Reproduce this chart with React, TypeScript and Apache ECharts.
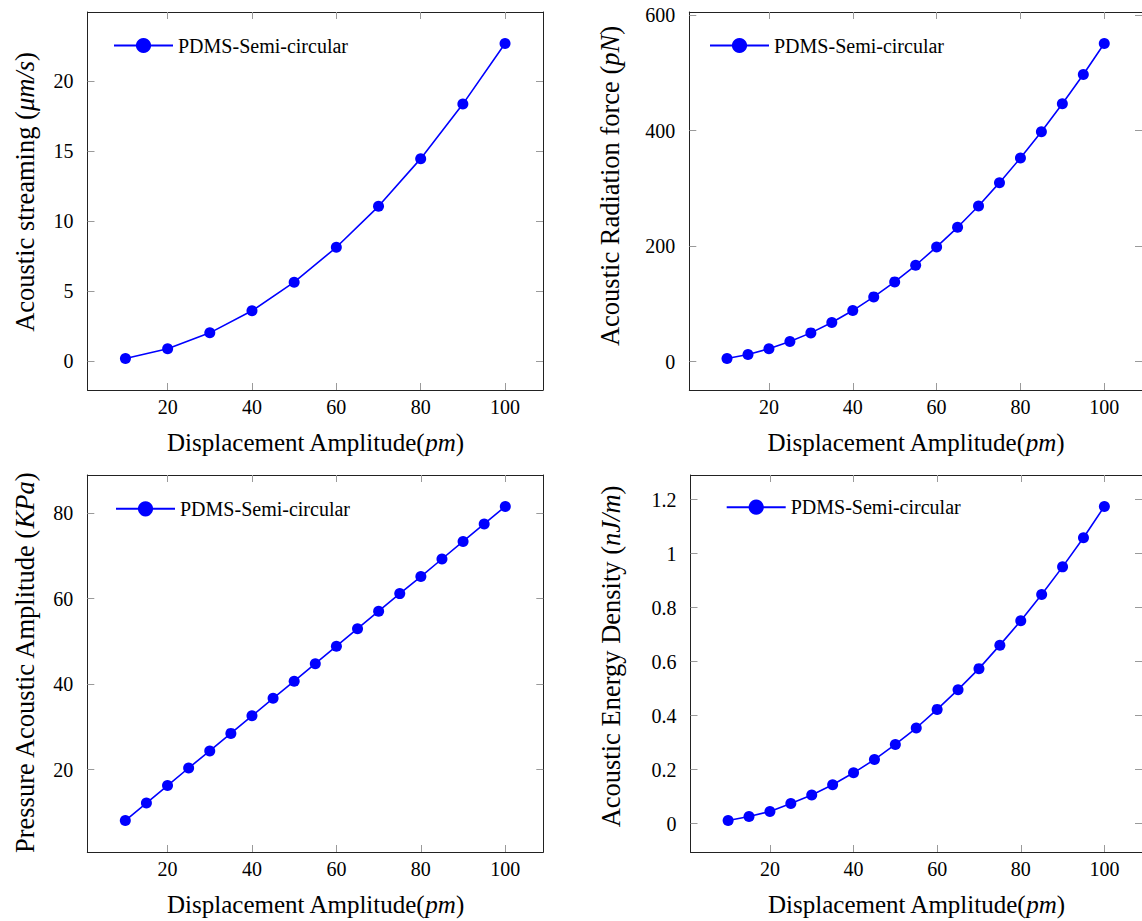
import React, { useEffect, useRef } from 'react';
import * as echarts from 'echarts';

const SERIES_NAME = 'PDMS-Semi-circular';

const xCoarse = [10, 20, 30, 40, 50, 60, 70, 80, 90, 100];
const xFine = [10, 15, 20, 25, 30, 35, 40, 45, 50, 55, 60, 65, 70, 75, 80, 85, 90, 95, 100];

const streaming = [0.21, 0.9, 2.04, 3.61, 5.65, 8.14, 11.06, 14.46, 18.35, 22.67];
const radiation = [5.2, 12.1, 22.0, 34.6, 49.6, 67.5, 88.3, 112.0, 138.0, 166.8, 198.6, 232.6, 269.6, 310.0, 352.7, 398.3, 446.8, 497.5, 551.2];
const pressure = [8.1, 12.2, 16.3, 20.4, 24.4, 28.5, 32.6, 36.7, 40.7, 44.8, 48.9, 53.0, 57.1, 61.2, 65.2, 69.3, 73.4, 77.5, 81.6];
const energy = [0.011, 0.026, 0.045, 0.074, 0.106, 0.144, 0.188, 0.237, 0.293, 0.354, 0.423, 0.496, 0.574, 0.661, 0.751, 0.849, 0.951, 1.059, 1.175];

const xTicks = [20, 40, 60, 80, 100];
const streamingTicks = [0, 5, 10, 15, 20];
const radiationTicks = [0, 200, 400, 600];
const pressureTicks = [20, 40, 60, 80];
const energyTicks = [0, 0.2, 0.4, 0.6, 0.8, 1, 1.2];

const xTitle = '{n|Displacement Amplitude(}{i|pm}{n|)}';
const streamingTitle = '{n|Acoustic streaming (}{i|μm/s}{n|)}';
const radiationTitle = '{n|Acoustic Radiation force (}{i|pN}{n|)}';
const pressureTitle = '{n|Pressure Acoustic Amplitude (}{i|KPa}{n|)}';
const energyTitle = '{n|Acoustic Energy Density (}{i|nJ/m}{n|)}';

const BLUE = '#0000ff';
const FONT = '"Liberation Serif", "Times New Roman", serif';

function enlarge(vals: number[]): [number, number] {
  const lo = Math.min(...vals);
  const hi = Math.max(...vals);
  const pad = (hi - lo) * 0.1;
  return [lo - pad, hi + pad];
}

export default function App() {
  const ref = useRef<HTMLDivElement>(null);

  useEffect(() => {
    if (!ref.current) return;
    const chart = echarts.init(ref.current, null, { renderer: 'svg' });

    const panels = [
      { x: xCoarse, y: streaming, yTicks: streamingTicks, title: streamingTitle,
        grid: { left: 87.5, top: 12, width: 455.5, height: 378 }, gap: 49, shift: 18, legend: { left: 113, top: 35.5 } },
      { x: xFine, y: radiation, yTicks: radiationTicks, title: radiationTitle,
        grid: { left: 689.3, top: 12, width: 455, height: 378 }, gap: 66, shift: 30, legend: { left: 709, top: 35.5 } },
      { x: xFine, y: pressure, yTicks: pressureTicks, title: pressureTitle,
        grid: { left: 87.3, top: 475, width: 456, height: 377 }, gap: 49, shift: 0, legend: { left: 115, top: 498.8 } },
      { x: xFine, y: energy, yTicks: energyTicks, title: energyTitle,
        grid: { left: 690.5, top: 475, width: 455.5, height: 377 }, gap: 66, shift: 14, legend: { left: 725.7, top: 497.2 } },
    ];

    const richX = {
      n: { fontFamily: FONT, fontSize: 25, color: '#000' },
      i: { fontFamily: FONT, fontSize: 25, color: '#000', fontStyle: 'italic' },
    };
    const richY = {
      n: { fontFamily: FONT, fontSize: 26.5, color: '#000' },
      i: { fontFamily: FONT, fontSize: 26.5, color: '#000', fontStyle: 'italic' },
    };

    const grids: any[] = [];
    const xAxes: any[] = [];
    const yAxes: any[] = [];
    const series: any[] = [];
    const legends: any[] = [];

    const lineCol = '#222';
    const tickCol = '#9a9a9a';

    panels.forEach((p, i) => {
      grids.push({ ...p.grid, containLabel: false });
      const xr = enlarge(p.x);
      const yr = enlarge(p.y);

      xAxes.push({
        type: 'value', gridIndex: i, position: 'bottom', min: xr[0], max: xr[1],
        axisLine: { show: true, onZero: false, lineStyle: { color: lineCol, width: 1 } },
        axisTick: { show: true, inside: true, length: 7, customValues: xTicks, lineStyle: { color: tickCol } },
        axisLabel: { show: true, customValues: xTicks, fontFamily: FONT, fontSize: 20, color: '#000', margin: 7 },
        splitLine: { show: false },
        name: xTitle, nameLocation: 'middle', nameGap: 40,
        nameTextStyle: { rich: richX },
      });
      xAxes.push({
        type: 'value', gridIndex: i, position: 'top', min: xr[0], max: xr[1],
        axisLine: { show: true, onZero: false, lineStyle: { color: lineCol, width: 1 } },
        axisTick: { show: true, inside: true, length: 7, customValues: xTicks, lineStyle: { color: tickCol } },
        axisLabel: { show: false },
        splitLine: { show: false },
      });
      yAxes.push({
        type: 'value', gridIndex: i, position: 'left', min: yr[0], max: yr[1],
        axisLine: { show: true, onZero: false, lineStyle: { color: lineCol, width: 1 } },
        axisTick: { show: true, inside: true, length: 7, customValues: p.yTicks, lineStyle: { color: tickCol } },
        axisLabel: { show: true, customValues: p.yTicks, fontFamily: FONT, fontSize: 20, color: '#000', margin: 14,
          formatter: (v: number) => String(Math.round(v * 1000) / 1000) },
        splitLine: { show: false },
        name: p.title, nameLocation: 'middle', nameGap: p.gap, nameRotate: 90,
        nameTextStyle: { rich: richY, padding: [0, 0, 0, p.shift] },
      });
      yAxes.push({
        type: 'value', gridIndex: i, position: 'right', min: yr[0], max: yr[1],
        axisLine: { show: true, onZero: false, lineStyle: { color: lineCol, width: 1 } },
        axisTick: { show: true, inside: true, length: 7, customValues: p.yTicks, lineStyle: { color: tickCol } },
        axisLabel: { show: false },
        splitLine: { show: false },
      });

      series.push({
        type: 'line', name: SERIES_NAME, xAxisIndex: 2 * i, yAxisIndex: 2 * i,
        data: p.x.map((xv, k) => [xv, p.y[k]]),
        symbol: 'circle', symbolSize: 11, showSymbol: true,
        itemStyle: { color: BLUE },
        lineStyle: { color: BLUE, width: 1.6 },
        emphasis: { disabled: true },
      });

      legends.push({
        show: true, data: [SERIES_NAME], left: p.legend.left, top: p.legend.top, padding: 0,
        itemWidth: 59, itemHeight: 19, orient: 'horizontal', selectedMode: false,
        textStyle: { fontFamily: FONT, fontSize: 20, color: '#000' },
      });
    });

    chart.setOption({
      animation: false,
      backgroundColor: '#fff',
      grid: grids,
      xAxis: xAxes,
      yAxis: yAxes,
      legend: legends,
      series,
    });

    return () => chart.dispose();
  }, []);

  return (
    <div
      ref={ref}
      style={{ position: 'fixed', left: 0, top: 0, width: 1142, height: 921, background: '#fff' }}
    />
  );
}
